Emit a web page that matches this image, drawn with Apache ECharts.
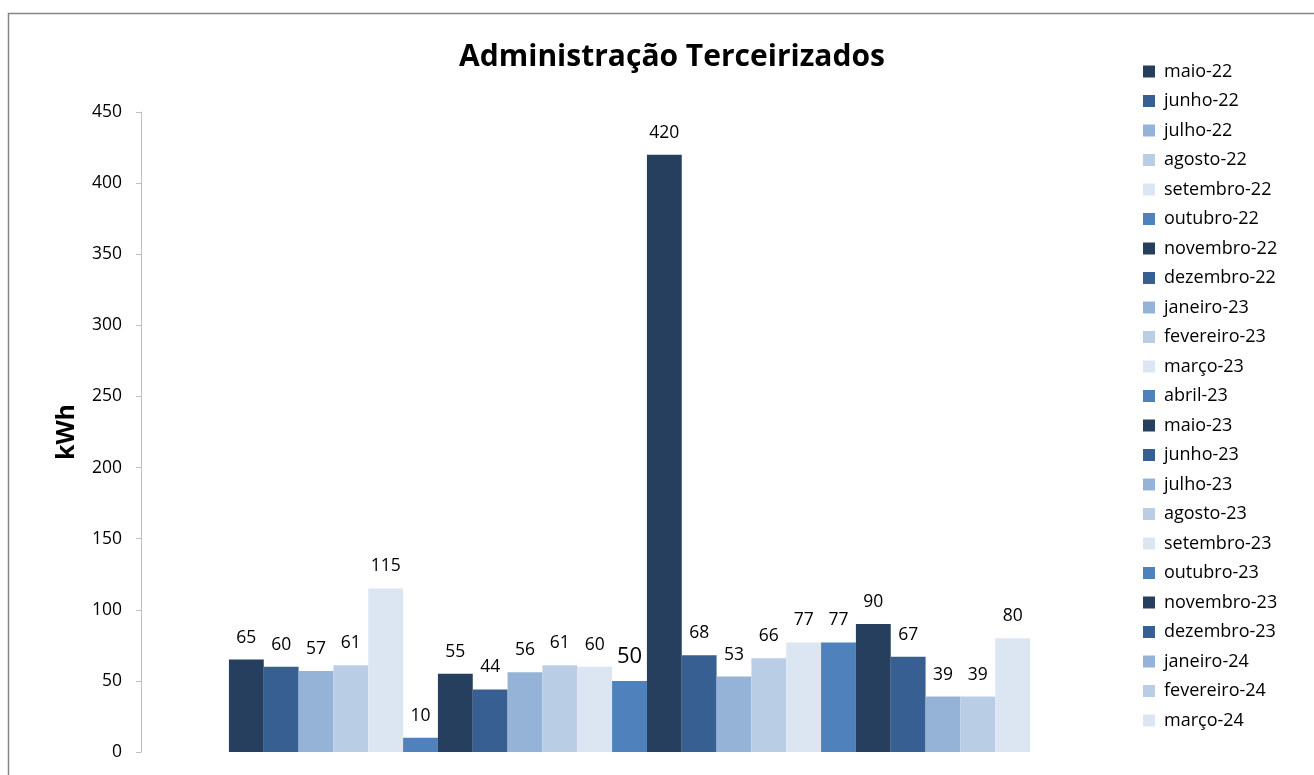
<!DOCTYPE html>
<html><head><meta charset="utf-8">
<script src="https://cdn.jsdelivr.net/npm/echarts@6/dist/echarts.min.js"></script>
<style>html,body{margin:0;padding:0;background:#fff}#c{width:1314px;height:775px}</style>
</head><body><div id="c"></div>
<script>
const seriesNames = ["maio-22","junho-22","julho-22","agosto-22","setembro-22","outubro-22","novembro-22","dezembro-22","janeiro-23","fevereiro-23","março-23","abril-23","maio-23","junho-23","julho-23","agosto-23","setembro-23","outubro-23","novembro-23","dezembro-23","janeiro-24","fevereiro-24","março-24"];
const values = [65,60,57,61,115,10,55,44,56,61,60,50,420,68,53,66,77,77,90,67,39,39,80];
const palette = ["#263F5F","#375F91","#95B3D7","#B9CDE5","#DCE6F2","#4F81BD"];
const yTicks = [0,50,100,150,200,250,300,350,400,450];
const FONT = "'Open Sans', 'Noto Sans', sans-serif";

const series = seriesNames.map((n,i)=>({
  name:n, type:'bar', data:[values[i]],
  barGap:'0%', barCategoryGap:'18%',
  itemStyle:{color:palette[i%palette.length]},
  label:{show:true, position:'top', distance:13, color:'#000', fontFamily:FONT, fontSize: i===11?22:17.5}
}));

const chart = echarts.init(document.getElementById('c'));
chart.setOption({
  animation:false,
  backgroundColor:'#fff',
  graphic:[{type:'rect', shape:{x:8.5,y:13.5,width:1400,height:900}, style:{fill:'none', stroke:'#868686', lineWidth:1.5}, silent:true}],
  title:{text:'Administração Terceirizados', left:667, textAlign:'center', top:37,
    textStyle:{fontFamily:FONT, fontSize:30, fontWeight:'bold', color:'#000'}},
  legend:{orient:'vertical', left:1138, top:57, itemWidth:12, itemHeight:12, itemGap:10.5,
    icon:'rect', data:seriesNames,
    textStyle:{fontFamily:FONT, fontSize:18, color:'#000', lineHeight:19, padding:[0,0,0,4]}},
  grid:{left:141, right:196, top:112, bottom:23},
  xAxis:{type:'category', data:[''], axisLine:{show:false}, axisTick:{show:false}, axisLabel:{show:false}},
  yAxis:{type:'value', min:0, max:450, interval:50,
    name:'kWh', nameLocation:'middle', nameRotate:90, nameGap:62,
    nameTextStyle:{fontFamily:FONT, fontSize:25, fontWeight:'bold', color:'#000'},
    axisLine:{show:true, lineStyle:{color:'#BFBFBF'}},
    axisTick:{show:true, length:5, lineStyle:{color:'#BFBFBF'}},
    axisLabel:{fontFamily:FONT, fontSize:17.5, color:'#000', margin:19,
      formatter:v=>yTicks.includes(v)?String(v):''},
    splitLine:{show:false}},
  series:series
});
</script></body></html>
